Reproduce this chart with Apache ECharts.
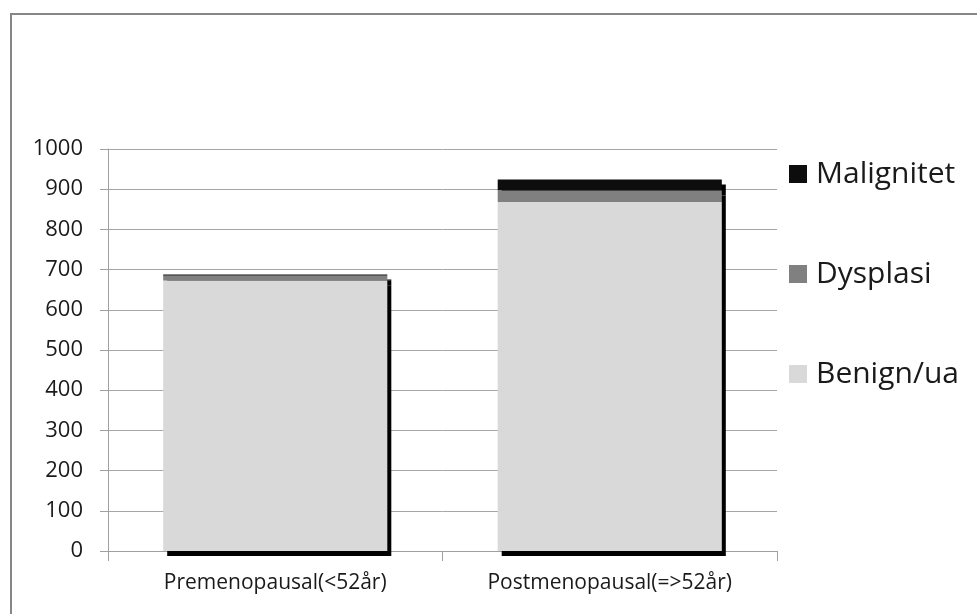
<!DOCTYPE html>
<html>
<head>
<meta charset="utf-8">
<script src="https://cdn.jsdelivr.net/npm/echarts@6/dist/echarts.min.js"></script>
<style>
html,body{margin:0;padding:0;background:#fff;}
#c{width:977px;height:614px;}
</style>
</head>
<body>
<div id="c"></div>
<script>
const categories = ['Premenopausal(<52år)', 'Postmenopausal(=>52år)'];
const benign = [672, 868];
const dysplasi = [13, 29];
const malignitet = [3, 27];
const yTicks = [0, 100, 200, 300, 400, 500, 600, 700, 800, 900, 1000];

const FONT = 'Open Sans';
const chart = echarts.init(document.getElementById('c'), null, {renderer: 'canvas'});
const shadow = {shadowColor: '#000', shadowBlur: 0, shadowOffsetX: 4, shadowOffsetY: 5};

chart.setOption({
  animation: false,
  backgroundColor: '#fff',
  graphic: [{
    type: 'rect',
    shape: {x: 11, y: 14, width: 980, height: 620},
    style: {fill: 'none', stroke: '#868686', lineWidth: 2},
    silent: true
  }],
  grid: {left: 108, right: 200, top: 149, bottom: 63},
  legend: {
    data: ['Malignitet', 'Dysplasi', 'Benign/ua'],
    orient: 'vertical',
    left: 784,
    top: 151,
    itemWidth: 18,
    itemHeight: 18,
    itemGap: 64,
    icon: 'rect',
    textStyle: {fontFamily: FONT, fontSize: 30, color: '#1a1a1a', lineHeight: 36, padding: [0, 0, 0, 4]}
  },
  xAxis: {
    type: 'category',
    data: categories,
    axisLine: {lineStyle: {color: '#a0a0a0', width: 1}},
    axisTick: {show: true, alignWithLabel: false, length: 10, lineStyle: {color: '#a0a0a0'}},
    axisLabel: {fontFamily: FONT, fontSize: 21, color: '#1a1a1a', margin: 22, interval: 0}
  },
  yAxis: {
    type: 'value',
    min: 0,
    max: 1000,
    interval: 100,
    axisLine: {show: true, lineStyle: {color: '#a0a0a0', width: 1}},
    axisTick: {show: true, inside: false, length: 8, lineStyle: {color: '#a0a0a0'}},
    splitLine: {show: true, lineStyle: {color: '#a6a6a6', width: 1}},
    axisLabel: {
      fontFamily: FONT, fontSize: 22, color: '#1a1a1a', margin: 25,
      formatter: function (v) { return yTicks.indexOf(v) >= 0 ? String(v) : ''; }
    }
  },
  series: [
    {name: 'Benign/ua', type: 'bar', stack: 's', data: benign, barCategoryGap: '33%', z: 5,
     itemStyle: Object.assign({color: '#d9d9d9'}, shadow)},
    {name: 'Dysplasi', type: 'bar', stack: 's', data: dysplasi, z: 4,
     itemStyle: Object.assign({color: '#808080'}, shadow)},
    {name: 'Malignitet', type: 'bar', stack: 's', data: malignitet, z: 3,
     itemStyle: Object.assign({color: '#0d0d0d'}, shadow)}
  ]
});
</script>
</body>
</html>
